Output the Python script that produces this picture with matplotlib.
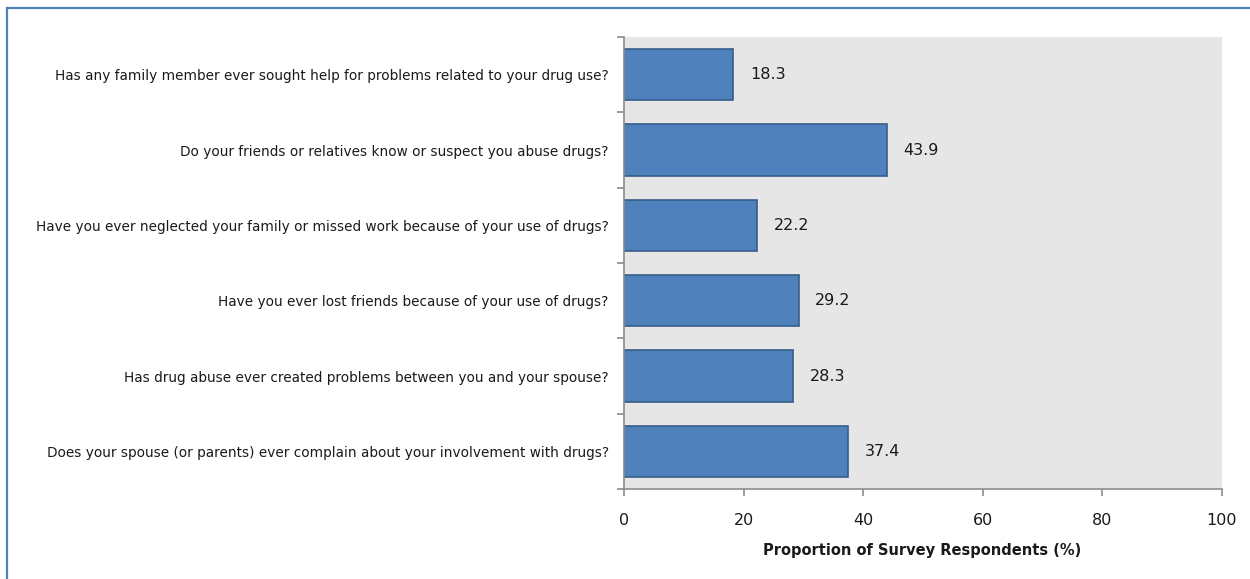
import matplotlib
matplotlib.use("Agg")
import matplotlib.pyplot as plt
from matplotlib.lines import Line2D

questions = [
    "Has any family member ever sought help for problems related to your drug use?",
    "Do your friends or relatives know or suspect you abuse drugs?",
    "Have you ever neglected your family or missed work because of your use of drugs?",
    "Have you ever lost friends because of your use of drugs?",
    "Has drug abuse ever created problems between you and your spouse?",
    "Does your spouse (or parents) ever complain about your involvement with drugs?",
]
percentages = [18.3, 43.9, 22.2, 29.2, 28.3, 37.4]
x_ticks = [0, 20, 40, 60, 80, 100]
x_label = "Proportion of Survey Respondents (%)"

plt.rcParams["font.family"] = ["DejaVu Sans"]

fig = plt.figure(figsize=(12.5, 5.79), dpi=100)
ax = fig.add_axes([0.4992, 0.1554, 0.4784, 0.7806])
ax.set_facecolor("#E6E6E6")

n = len(questions)
ypos = list(range(n))
ax.barh(ypos, percentages, height=0.68, color="#4F81BD", edgecolor="#385D8A", linewidth=1.2)
for y, v in zip(ypos, percentages):
    ax.text(v + 2.8, y, f"{v:.1f}", va="center", ha="left", fontsize=11.5, color="#1a1a1a")

ax.set_ylim(n - 0.5, -0.5)
ax.set_xlim(0, 100)
ax.set_yticks(ypos)
ax.set_yticklabels(questions, fontsize=9.85, color="#1a1a1a")
ax.tick_params(axis="y", length=0, pad=11)
ax.set_yticks([i - 0.5 for i in range(n + 1)], minor=True)
ax.tick_params(axis="y", which="minor", length=5, direction="out", color="#8c8c8c", width=1.2)
ax.set_xticks(x_ticks)
ax.tick_params(axis="x", length=5, direction="out", color="#8c8c8c", width=1.2,
               labelsize=11.5, pad=12, labelcolor="#1a1a1a")

fig.text(922 / 1250, 1 - 551 / 579, x_label, ha="center", va="center",
         fontsize=10.5, fontweight="bold", color="#1a1a1a")

for side in ("top", "right"):
    ax.spines[side].set_visible(False)
for side in ("left", "bottom"):
    ax.spines[side].set_color("#8c8c8c")
    ax.spines[side].set_linewidth(1.2)

# Outer frame lines along the top and left edges
fig.add_artist(Line2D([6.5 / 1250, 1.0], [1 - 7.5 / 579] * 2, transform=fig.transFigure,
                      color="#4F81BD", linewidth=1.6))
fig.add_artist(Line2D([6.5 / 1250] * 2, [0.0, 1 - 7.5 / 579], transform=fig.transFigure,
                      color="#4F81BD", linewidth=1.6))

fig.savefig("out.png", dpi=100)
